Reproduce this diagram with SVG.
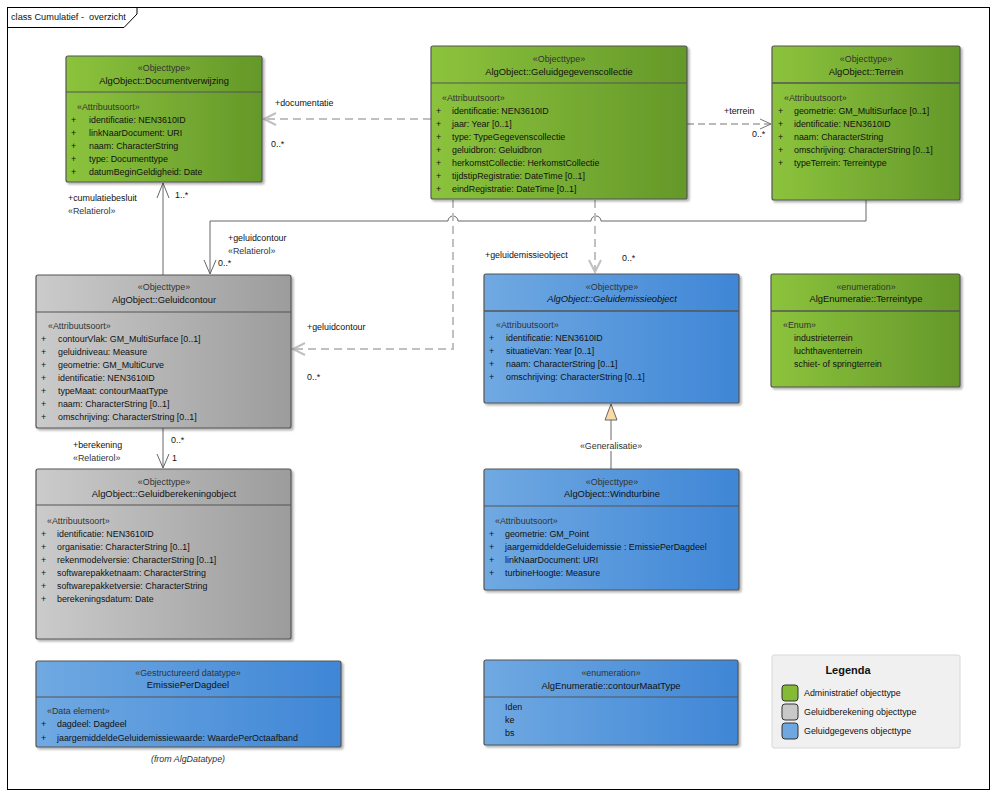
<svg xmlns="http://www.w3.org/2000/svg" width="996" height="797" viewBox="0 0 996 797">
<defs>
<linearGradient id="gGreen" x1="0" y1="0" x2="1" y2="0"><stop offset="0" stop-color="#8cc33c"/><stop offset="1" stop-color="#64982a"/></linearGradient>
<linearGradient id="gGrey" x1="0" y1="0" x2="1" y2="0"><stop offset="0" stop-color="#cbcbcb"/><stop offset="1" stop-color="#9c9c9c"/></linearGradient>
<linearGradient id="gBlue" x1="0" y1="0" x2="1" y2="0"><stop offset="0" stop-color="#70a9e2"/><stop offset="1" stop-color="#3f86d6"/></linearGradient>
<filter id="sh" x="-5%" y="-5%" width="115%" height="115%"><feDropShadow dx="2" dy="2" stdDeviation="1.2" flood-color="#000" flood-opacity="0.3"/></filter>
</defs>
<style>
text{font-family:"Liberation Sans",Arial,sans-serif;font-size:8.9px;fill:#111}
.st{fill:#333}
.it{font-style:italic}
.c{text-anchor:middle}
.hn{font-size:9.4px}
.box{stroke:#555;stroke-width:1.2;filter:url(#sh)}
.div{stroke:#555;stroke-width:1.2}
.sol{fill:none;stroke:#666;stroke-width:1}
.dl{fill:none;stroke:#c0c0c0;stroke-width:2;stroke-dasharray:8,5}
.dd{fill:none;stroke:#777;stroke-width:1.2;stroke-dasharray:7,4}
.lbl{fill:#111}
</style>
<rect x="0" y="0" width="996" height="797" fill="#fff"/>
<rect x="7.5" y="7.5" width="982" height="782" fill="none" stroke="#000" stroke-width="1"/>
<path d="M7.5 27.5 H124 L137 14 V7.5" fill="none" stroke="#000" stroke-width="1"/>
<text x="11" y="20" xml:space="preserve" style="font-size:9.2px">class Cumulatief -  overzicht</text>

<g id="connectors">
  <path class="dl" d="M431 119 H264"/>
  <path d="M276 113 L264 119 L276 125" fill="none" stroke="#c0c0c0" stroke-width="2"/>
  <text x="275" y="106" class="lbl">+documentatie</text>
  <text x="271" y="147" class="lbl">0..*</text>
  <path class="dd" d="M687 124 H771"/>
  <path d="M760 119 L771 124 L760 129" fill="none" stroke="#777" stroke-width="1"/>
  <text x="724" y="114" class="lbl">+terrein</text>
  <text x="752" y="137" class="lbl">0..*</text>
  <path class="sol" d="M163 275 V183"/>
  <path d="M157 198 L163 183 L169 198" fill="none" stroke="#666" stroke-width="1"/>
  <text x="68" y="201" class="lbl">+cumulatiebesluit</text>
  <text x="68" y="214" class="st">«Relatierol»</text>
  <text x="175" y="198" class="lbl">1..*</text>
  <path class="sol" d="M866 200 V221 H601 A5 5 0 0 0 591 221 H458 A5 5 0 0 0 448 221 H210 V274"/>
  <path d="M204 260 L210 274 L216 260" fill="none" stroke="#666" stroke-width="1"/>
  <text x="228" y="241" class="lbl">+geluidcontour</text>
  <text x="228" y="254" class="st">«Relatierol»</text>
  <text x="218" y="266" class="lbl">0..*</text>
  <path class="dl" d="M453 200 V349 H293"/>
  <path d="M305 343 L293 349 L305 355" fill="none" stroke="#c0c0c0" stroke-width="2"/>
  <text x="307" y="330" class="lbl">+geluidcontour</text>
  <text x="307" y="380" class="lbl">0..*</text>
  <path class="dl" d="M595 200 V272"/>
  <path d="M589 260 L595 272 L601 260" fill="none" stroke="#c0c0c0" stroke-width="2"/>
  <text x="485" y="258" class="lbl">+geluidemissieobject</text>
  <text x="622" y="261" class="lbl">0..*</text>
  <path class="sol" d="M163 428 V468"/>
  <path d="M157 454 L163 468 L169 454" fill="none" stroke="#666" stroke-width="1"/>
  <text x="73" y="448" class="lbl">+berekening</text>
  <text x="73" y="461" class="st">«Relatierol»</text>
  <text x="171" y="443" class="lbl">0..*</text>
  <text x="172" y="461" class="lbl">1</text>
  <path class="sol" d="M611 469 V420"/>
  <path d="M611 404 L605 420 L617 420 Z" fill="#f9d9a6" stroke="#666" stroke-width="1"/>
  <rect x="576" y="440" width="70" height="11" fill="#fff"/>
  <text x="611" y="449" class="st c">«Generalisatie»</text>
</g>

<g id="Documentverwijzing">
  <rect class="box" x="66" y="56" width="196" height="126" rx="2" fill="url(#gGreen)"/>
  <line class="div" x1="66" y1="92" x2="262" y2="92"/>
  <text x="164" y="71" class="st c">«Objecttype»</text>
  <text x="164" y="84" class="c hn">AlgObject::Documentverwijzing</text>
  <text x="77" y="110" class="st">«Attribuutsoort»</text>
  <text x="71" y="123">+</text><text x="89" y="123">identificatie: NEN3610ID</text>
  <text x="71" y="136">+</text><text x="89" y="136">linkNaarDocument: URI</text>
  <text x="71" y="149">+</text><text x="89" y="149">naam: CharacterString</text>
  <text x="71" y="162">+</text><text x="89" y="162">type: Documenttype</text>
  <text x="71" y="175">+</text><text x="89" y="175">datumBeginGeldigheid: Date</text>
</g>

<g id="Geluidgegevenscollectie">
  <rect class="box" x="431" y="46" width="256" height="153" rx="2" fill="url(#gGreen)"/>
  <line class="div" x1="431" y1="83" x2="687" y2="83"/>
  <text x="559" y="62" class="st c">«Objecttype»</text>
  <text x="559" y="75" class="c hn">AlgObject::Geluidgegevenscollectie</text>
  <text x="442" y="101" class="st">«Attribuutsoort»</text>
  <text x="436" y="114">+</text><text x="452" y="114">identificatie: NEN3610ID</text>
  <text x="436" y="127">+</text><text x="452" y="127">jaar: Year [0..1]</text>
  <text x="436" y="140">+</text><text x="452" y="140">type: TypeGegevenscollectie</text>
  <text x="436" y="153">+</text><text x="452" y="153">geluidbron: Geluidbron</text>
  <text x="436" y="166">+</text><text x="452" y="166">herkomstCollectie: HerkomstCollectie</text>
  <text x="436" y="179">+</text><text x="452" y="179">tijdstipRegistratie: DateTime [0..1]</text>
  <text x="436" y="192">+</text><text x="452" y="192">eindRegistratie: DateTime [0..1]</text>
</g>

<g id="Terrein">
  <rect class="box" x="772" y="46" width="188" height="154" rx="2" fill="url(#gGreen)"/>
  <line class="div" x1="772" y1="83" x2="960" y2="83" style="stroke-width:1.6"/>
  <text x="866" y="62" class="st c">«Objecttype»</text>
  <text x="866" y="75" class="c hn">AlgObject::Terrein</text>
  <text x="784" y="101" class="st">«Attribuutsoort»</text>
  <text x="778" y="114">+</text><text x="794" y="114">geometrie: GM_MultiSurface [0..1]</text>
  <text x="778" y="127">+</text><text x="794" y="127">identificatie: NEN3610ID</text>
  <text x="778" y="140">+</text><text x="794" y="140">naam: CharacterString</text>
  <text x="778" y="153">+</text><text x="794" y="153">omschrijving: CharacterString [0..1]</text>
  <text x="778" y="166">+</text><text x="794" y="166">typeTerrein: Terreintype</text>
</g>

<g id="Geluidcontour">
  <rect class="box" x="36" y="275" width="255" height="153" rx="2" fill="url(#gGrey)"/>
  <line class="div" x1="36" y1="312" x2="291" y2="312"/>
  <text x="164" y="290" class="st c">«Objecttype»</text>
  <text x="164" y="303" class="c hn">AlgObject::Geluidcontour</text>
  <text x="48" y="329" class="st">«Attribuutsoort»</text>
  <text x="41" y="342">+</text><text x="58" y="342">contourVlak: GM_MultiSurface [0..1]</text>
  <text x="41" y="355">+</text><text x="58" y="355">geluidniveau: Measure</text>
  <text x="41" y="368">+</text><text x="58" y="368">geometrie: GM_MultiCurve</text>
  <text x="41" y="381">+</text><text x="58" y="381">identificatie: NEN3610ID</text>
  <text x="41" y="394">+</text><text x="58" y="394">typeMaat: contourMaatType</text>
  <text x="41" y="407">+</text><text x="58" y="407">naam: CharacterString [0..1]</text>
  <text x="41" y="420">+</text><text x="58" y="420">omschrijving: CharacterString [0..1]</text>
</g>

<g id="Geluidemissieobject">
  <rect class="box" x="484" y="274" width="255" height="129" rx="2" fill="url(#gBlue)"/>
  <line class="div" x1="484" y1="311" x2="739" y2="311" style="stroke-width:1.6"/>
  <text x="612" y="290" class="st c">«Objecttype»</text>
  <text x="612" y="302" class="c it hn">AlgObject::Geluidemissieobject</text>
  <text x="496" y="328" class="st">«Attribuutsoort»</text>
  <text x="489" y="341">+</text><text x="506" y="341">identificatie: NEN3610ID</text>
  <text x="489" y="354">+</text><text x="506" y="354">situatieVan: Year [0..1]</text>
  <text x="489" y="367">+</text><text x="506" y="367">naam: CharacterString [0..1]</text>
  <text x="489" y="380">+</text><text x="506" y="380">omschrijving: CharacterString [0..1]</text>
</g>

<g id="Terreintype">
  <rect class="box" x="771" y="274" width="189" height="113" rx="2" fill="url(#gGreen)"/>
  <line class="div" x1="771" y1="311" x2="960" y2="311" style="stroke-width:1.6"/>
  <text x="866" y="290" class="st c">«enumeration»</text>
  <text x="866" y="302" class="c hn">AlgEnumeratie::Terreintype</text>
  <text x="783" y="328" class="st">«Enum»</text>
  <text x="794" y="341">industrieterrein</text>
  <text x="794" y="354">luchthaventerrein</text>
  <text x="794" y="367">schiet- of springterrein</text>
</g>

<g id="Geluidberekeningobject">
  <rect class="box" x="36" y="469" width="255" height="170" rx="2" fill="url(#gGrey)"/>
  <line class="div" x1="36" y1="505" x2="291" y2="505"/>
  <text x="164" y="485" class="st c">«Objecttype»</text>
  <text x="164" y="497" class="c hn">AlgObject::Geluidberekeningobject</text>
  <text x="47" y="524" class="st">«Attribuutsoort»</text>
  <text x="41" y="537">+</text><text x="57" y="537">identificatie: NEN3610ID</text>
  <text x="41" y="550">+</text><text x="57" y="550">organisatie: CharacterString [0..1]</text>
  <text x="41" y="563">+</text><text x="57" y="563">rekenmodelversie: CharacterString [0..1]</text>
  <text x="41" y="576">+</text><text x="57" y="576">softwarepakketnaam: CharacterString</text>
  <text x="41" y="589">+</text><text x="57" y="589">softwarepakketversie: CharacterString</text>
  <text x="41" y="602">+</text><text x="57" y="602">berekeningsdatum: Date</text>
</g>

<g id="Windturbine">
  <rect class="box" x="484" y="469" width="255" height="121" rx="2" fill="url(#gBlue)"/>
  <line class="div" x1="484" y1="506" x2="739" y2="506"/>
  <text x="612" y="485" class="st c">«Objecttype»</text>
  <text x="612" y="497" class="c hn">AlgObject::Windturbine</text>
  <text x="495" y="524" class="st">«Attribuutsoort»</text>
  <text x="489" y="537">+</text><text x="505" y="537">geometrie: GM_Point</text>
  <text x="489" y="550">+</text><text x="505" y="550">jaargemiddeldeGeluidemissie : EmissiePerDagdeel</text>
  <text x="489" y="563">+</text><text x="505" y="563">linkNaarDocument: URI</text>
  <text x="489" y="576">+</text><text x="505" y="576">turbineHoogte: Measure</text>
</g>

<g id="EmissiePerDagdeel">
  <rect class="box" x="36" y="661" width="305" height="86" rx="2" fill="url(#gBlue)"/>
  <line class="div" x1="36" y1="697" x2="341" y2="697"/>
  <text x="188" y="676" class="st c">«Gestructureerd datatype»</text>
  <text x="188" y="688" class="c hn">EmissiePerDagdeel</text>
  <text x="47" y="714" class="st">«Data element»</text>
  <text x="41" y="727">+</text><text x="57" y="727">dagdeel: Dagdeel</text>
  <text x="41" y="741">+</text><text x="57" y="741">jaargemiddeldeGeluidemissiewaarde: WaardePerOctaafband</text>
  <text x="188" y="762" class="st c it">(from AlgDatatype)</text>
</g>

<g id="contourMaatType">
  <rect class="box" x="484" y="660" width="254" height="85" rx="2" fill="url(#gBlue)"/>
  <line class="div" x1="484" y1="697" x2="738" y2="697"/>
  <text x="611" y="676" class="st c">«enumeration»</text>
  <text x="611" y="689" class="c hn">AlgEnumeratie::contourMaatType</text>
  <text x="505" y="710">Iden</text>
  <text x="505" y="723">ke</text>
  <text x="505" y="736">bs</text>
</g>

<g id="Legenda">
  <rect x="772" y="655" width="188" height="93" rx="2" fill="#f0f0f0" stroke="#d8d8d8" stroke-width="1"/>
  <text x="848" y="674" class="c" style="font-size:11px;font-weight:bold">Legenda</text>
  <rect x="782" y="685" width="16" height="16" rx="3" fill="#84bb34" stroke="#333" stroke-width="1"/>
  <rect x="782" y="704" width="16" height="16" rx="3" fill="#c8c8c8" stroke="#333" stroke-width="1"/>
  <rect x="782" y="723" width="16" height="16" rx="3" fill="#6fa8e0" stroke="#333" stroke-width="1"/>
  <text x="804" y="696">Administratief objecttype</text>
  <text x="804" y="715">Geluidberekening objecttype</text>
  <text x="804" y="734">Geluidgegevens objecttype</text>
</g>
</svg>
